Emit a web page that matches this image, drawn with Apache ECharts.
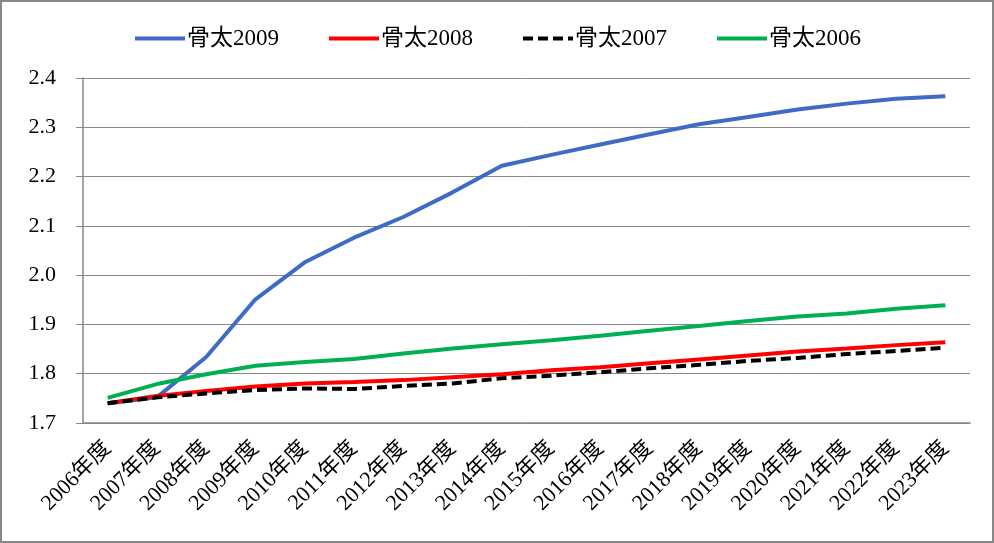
<!DOCTYPE html>
<html>
<head>
<meta charset="utf-8">
<script src="https://cdn.jsdelivr.net/npm/echarts@6/dist/echarts.min.js"></script>
<style>
  html, body { margin: 0; padding: 0; background: #fff; }
  #chart { width: 994px; height: 543px; }
</style>
</head>
<body>
<div id="chart"></div>
<script>
const years = ['2006年度', '2007年度', '2008年度', '2009年度', '2010年度', '2011年度', '2012年度', '2013年度', '2014年度',
  '2015年度', '2016年度', '2017年度', '2018年度', '2019年度', '2020年度', '2021年度', '2022年度', '2023年度']

const honebuto2009 = [1.740, 1.752, 1.834, 1.951, 2.026, 2.076, 2.118, 2.168, 2.222, 2.244, 2.265, 2.286, 2.306, 2.321, 2.336, 2.348, 2.358, 2.363]
const honebuto2008 = [1.740, 1.755, 1.765, 1.774, 1.780, 1.783, 1.787, 1.793, 1.799, 1.807, 1.813, 1.821, 1.829, 1.837, 1.845, 1.851, 1.858, 1.864]
const honebuto2007 = [1.740, 1.752, 1.760, 1.767, 1.770, 1.769, 1.775, 1.780, 1.791, 1.796, 1.803, 1.811, 1.818, 1.826, 1.832, 1.840, 1.846, 1.853]
const honebuto2006 = [1.751, 1.779, 1.799, 1.816, 1.824, 1.830, 1.841, 1.851, 1.860, 1.868, 1.877, 1.887, 1.897, 1.907, 1.916, 1.922, 1.932, 1.939]

const font = '"Liberation Serif", "Noto Sans CJK JP", serif'

const chart = echarts.init(document.getElementById('chart'))

const line = (name, data, color, type) => ({
  name,
  type: 'line',
  data,
  symbol: 'none',
  lineStyle: { color, width: 4, type: type || 'solid' },
  itemStyle: { color },
})

chart.setOption({
  animation: false,
  textStyle: { fontFamily: font },
  graphic: [
    {
      type: 'rect',
      shape: { x: 1, y: 1, width: 992, height: 541 },
      style: { fill: 'none', stroke: '#888', lineWidth: 2 },
      silent: true,
    },
  ],
  legend: {
    top: 22,
    left: 'center',
    itemWidth: 50,
    itemHeight: 14,
    itemGap: 48,
    lineStyle: { width: 4 },
    itemStyle: { opacity: 0 },
    textStyle: { fontFamily: font, fontSize: 23, color: '#000', padding: [0, 0, 0, -3] },
    data: ['骨太2009', '骨太2008', '骨太2007', '骨太2006'],
  },
  grid: { left: 83, right: 24, top: 78, bottom: 120 },
  xAxis: {
    type: 'category',
    data: years,
    boundaryGap: true,
    axisLine: { lineStyle: { color: '#888', width: 1.5 } },
    axisTick: { inside: true, length: 6, lineStyle: { color: '#888' } },
    axisLabel: { rotate: 45, interval: 0, margin: 22, fontSize: 22, color: '#000', fontFamily: font },
  },
  yAxis: {
    type: 'value',
    min: 1.7,
    max: 2.4,
    interval: 0.1,
    axisLine: { show: true, lineStyle: { color: '#888', width: 1.5 } },
    axisTick: { show: true, length: 7, lineStyle: { color: '#888' } },
    splitLine: { lineStyle: { color: '#888', width: 1 } },
    axisLabel: { fontSize: 22, color: '#000', margin: 27, fontFamily: font, formatter: (v) => v.toFixed(1) },
  },
  series: [
    line('骨太2009', honebuto2009, '#3F6BC6'),
    line('骨太2008', honebuto2008, '#FF0000'),
    line('骨太2007', honebuto2007, '#000000', [10, 5]),
    line('骨太2006', honebuto2006, '#00B050'),
  ],
})
</script>
</body>
</html>
